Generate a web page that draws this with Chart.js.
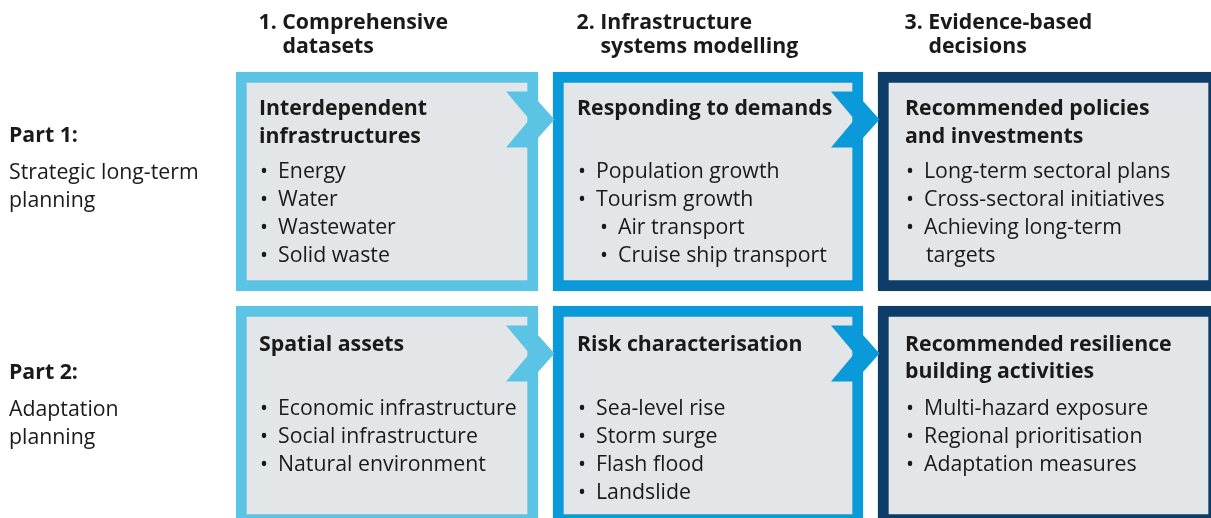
<!DOCTYPE html>
<html><head><meta charset="utf-8">
<script src="https://cdn.jsdelivr.net/npm/chart.js@4.4.1/dist/chart.umd.min.js"></script>
<style>html,body{margin:0;padding:0;background:#fff;}canvas{display:block}</style>
</head><body>
<canvas id="c" width="1211" height="518"></canvas>
<script>
// ---- data ----
const rowLabels = ['Part 1', 'Part 2'];
const rowTitles = ['Part 1:', 'Part 2:'];
const rowSubtitles = [['Strategic long-term', 'planning'], ['Adaptation', 'planning']];
const stageTitles = [['1. Comprehensive', 'datasets'], ['2. Infrastructure', 'systems modelling'], ['3. Evidence-based', 'decisions']];
const stageStart = [236, 553, 878];
const stageEnd = [538, 863, 1219];
const boxHeadings = [
  [['Interdependent', 'infrastructures'], ['Responding to demands'], ['Recommended policies', 'and investments']],
  [['Spatial assets'], ['Risk characterisation'], ['Recommended resilience', 'building activities']]
];
// level: 0 = bullet, 1 = sub-bullet, 2 = continuation line
const boxItems = [
  [
    [[0, 'Energy'], [0, 'Water'], [0, 'Wastewater'], [0, 'Solid waste']],
    [[0, 'Population growth'], [0, 'Tourism growth'], [1, 'Air transport'], [1, 'Cruise ship transport']],
    [[0, 'Long-term sectoral plans'], [0, 'Cross-sectoral initiatives'], [0, 'Achieving long-term'], [2, 'targets']]
  ],
  [
    [[0, 'Economic infrastructure'], [0, 'Social infrastructure'], [0, 'Natural environment']],
    [[0, 'Sea-level rise'], [0, 'Storm surge'], [0, 'Flash flood'], [0, 'Landslide']],
    [[0, 'Multi-hazard exposure'], [0, 'Regional prioritisation'], [0, 'Adaptation measures']]
  ]
];

// ---- styles ----
const stageColors = ['#5bc4e5', '#0a9ad9', '#0e3d69'];
const boxFill = '#e3e6e8';
const textColor = '#1a1a1a';
const FONT = '"Open Sans", "Noto Sans", sans-serif';
const FS = '21.3px ';
const padX = [23, 24, 27];
const headOff = [43, 44.7];
const itemOff = [105.5, 109];
const partOff = [69.5, 72.5];
const subOff = [106.5, 109.5];

const diagramPlugin = {
  id: 'diagram',
  afterDatasetsDraw(chart) {
    const ctx = chart.ctx;
    ctx.save();
    // chevrons
    chart.data.datasets.forEach((ds, i) => {
      if (i === chart.data.datasets.length - 1) return;
      const meta = chart.getDatasetMeta(i);
      meta.data.forEach((el) => {
        const p = el.getProps(['x', 'y', 'base', 'height'], true);
        const R = Math.max(p.x, p.base);
        const T = p.y - p.height / 2;
        ctx.fillStyle = stageColors[i];
        ctx.beginPath();
        ctx.moveTo(R - 32, T + 19.5);
        ctx.lineTo(R - 8.5, T + 19.5);
        ctx.lineTo(R + 16.5, T + 47.5);
        ctx.lineTo(R - 8.5, T + 75.5);
        ctx.lineTo(R - 32, T + 75.5);
        ctx.lineTo(R - 8.5, T + 47.5);
        ctx.closePath();
        ctx.fill();
      });
    });
    ctx.fillStyle = textColor;
    ctx.textBaseline = 'alphabetic';
    ctx.textAlign = 'left';
    // stage titles
    const meta0 = chart.getDatasetMeta(0);
    chart.data.datasets.forEach((ds, i) => {
      const el = chart.getDatasetMeta(i).data[0];
      const p = el.getProps(['x', 'base'], true);
      const L = Math.min(p.x, p.base);
      ctx.font = 'bold ' + FS + FONT;
      stageTitles[i].forEach((t, k) => {
        ctx.fillText(t, L + padX[i] - 0.5 + (k > 0 ? 24 : 0), 29 + k * 24);
      });
    });
    // row labels and box contents
    meta0.data.forEach((el0, r) => {
      const p0 = el0.getProps(['y', 'height'], true);
      const T = p0.y - p0.height / 2;
      ctx.font = 'bold ' + FS + FONT;
      ctx.fillText(rowTitles[r], 9, T + partOff[r]);
      ctx.font = FS + FONT;
      rowSubtitles[r].forEach((t, k) => ctx.fillText(t, 9, T + subOff[r] + k * 28));
      chart.data.datasets.forEach((ds, i) => {
        const el = chart.getDatasetMeta(i).data[r];
        const p = el.getProps(['x', 'base'], true);
        const hx = Math.min(p.x, p.base) + padX[i];
        ctx.font = 'bold ' + FS + FONT;
        boxHeadings[r][i].forEach((t, k) => ctx.fillText(t, hx, T + headOff[r] + k * 27.5));
        ctx.font = FS + FONT;
        boxItems[r][i].forEach(([lvl, t], k) => {
          const y = T + itemOff[r] + k * 28;
          if (lvl === 0) { ctx.fillText('•', hx + 1, y); ctx.fillText(t, hx + 19, y); }
          else if (lvl === 1) { ctx.fillText('•', hx + 23, y); ctx.fillText(t, hx + 41, y); }
          else { ctx.fillText(t, hx + 21, y); }
        });
      });
    });
    ctx.restore();
  }
};

const datasets = stageTitles.map((t, i) => ({
  label: t.join(' '),
  data: rowLabels.map(() => [stageStart[i], stageEnd[i]]),
  backgroundColor: boxFill,
  borderColor: stageColors[i],
  borderWidth: 11,
  borderSkipped: false,
  borderRadius: 0,
  barThickness: 219,
  grouped: false,
  clip: false
}));

new Chart(document.getElementById('c'), {
  type: 'bar',
  data: { labels: rowLabels, datasets },
  options: {
    indexAxis: 'y',
    responsive: false,
    animation: false,
    events: [],
    layout: { padding: { top: 181.5, bottom: 102.5, left: 0, right: 0 } },
    scales: {
      x: { type: 'linear', min: 0, max: 1211, display: false },
      y: { type: 'category', offset: false, display: false }
    },
    plugins: { legend: { display: false }, tooltip: { enabled: false } }
  },
  plugins: [diagramPlugin]
});
</script>
</body></html>
